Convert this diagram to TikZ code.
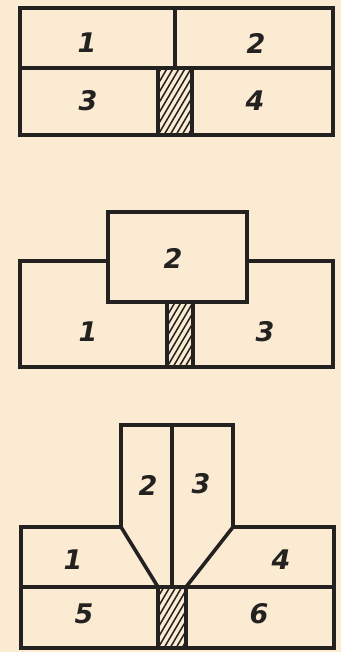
\documentclass[tikz,border=0pt]{standalone}
\usepackage{fontspec}
\setsansfont{DejaVu Sans}
\definecolor{paper}{RGB}{250,235,210}
\definecolor{ink}{RGB}{36,34,32}
\newcommand{\hatchrect}[4]{%
  \begin{scope}
    \clip (#1,#2) rectangle (#3,#4);
    \foreach \s in {-60,-54,...,60} {
      \draw[hatchline] ({#1+\s},#4) -- ++(50,-85);
    }
  \end{scope}
  \draw[wall] (#1,#2) rectangle (#3,#4);
}
\tikzset{
  wall/.style={draw=ink, line width=3.6pt, line join=miter, line cap=rect},
  hatchline/.style={draw=ink, line width=1.5pt},
  num/.style={font=\sffamily\bfseries\itshape\fontsize{27}{27}\selectfont, text=ink, inner sep=0pt}
}
\begin{document}
\begin{tikzpicture}[x=1pt,y=-1pt]
\fill[paper] (0,0) rectangle (341,652);
\useasboundingbox (0,0) rectangle (341,652);

% ---- Figure 1 ----
\draw[wall] (20,8) rectangle (333,135);
\draw[wall] (20,68) -- (333,68);
\draw[wall] (175,8) -- (175,68);
\hatchrect{158}{68}{192}{135}
\node[num] (a1) at (87,43) {1};
\node[num] (a2) at (256,43) {2};
\node[num] (a3) at (88,101) {3};
\node[num] (a4) at (255,101) {4};

% ---- Figure 2 ----
\draw[wall] (108,212) rectangle (247,302);
\draw[wall] (108,261) -- (20,261) -- (20,367) -- (333,367) -- (333,261) -- (247,261);
\hatchrect{167}{302}{193}{367}
\node[num] (b2) at (173,258) {2};
\node[num] (b1) at (88,332) {1};
\node[num] (b3) at (265,332) {3};

% ---- Figure 3 ----
\draw[wall] (121,527) -- (121,425) -- (233,425) -- (233,527);
\draw[wall] (172,425) -- (172,587);
\draw[wall] (121,527) -- (158,587);
\draw[wall] (233,527) -- (186,587);
\draw[wall] (121,527) -- (21,527) -- (21,648) -- (334,648) -- (334,527) -- (233,527);
\draw[wall] (21,587) -- (334,587);
\hatchrect{158}{587}{186}{648}
\node[num] (c2) at (148,485) {2};
\node[num] (c3) at (201,484) {3};
\node[num] (c1) at (73,560) {1};
\node[num] (c4) at (281,560) {4};
\node[num] (c5) at (84,614) {5};
\node[num] (c6) at (259,614) {6};
\end{tikzpicture}
\end{document}
